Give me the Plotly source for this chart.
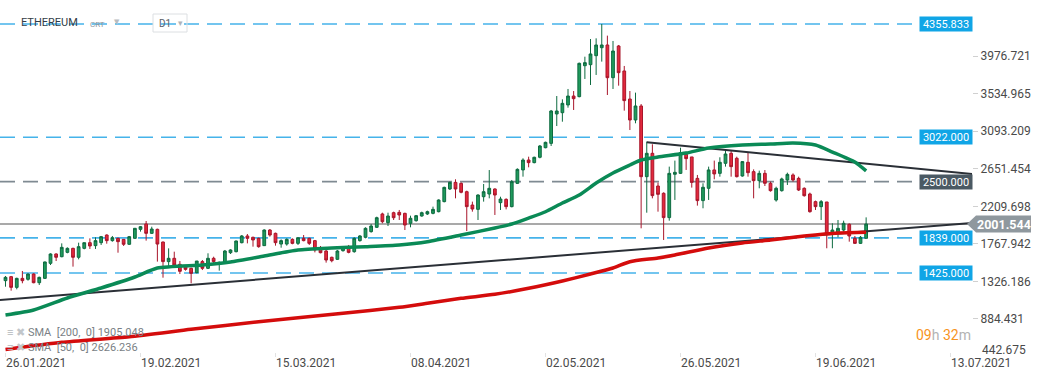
import pandas as pd
import plotly.graph_objects as go

# ---------------- data ----------------
START = "2021-01-26"
OPEN = [1335,1382,1256,1362,1351,1413,1311,1362,1539,1649,1617,1668,1715,1610,1715,1782,1747,1782,1872,1806,
        1833,1821,1763,1833,1939,2002,1892,1939,1790,1559,1598,1527,1500,1480,1429,1559,1480,1598,1527,1539,
        1664,1676,1782,1861,1845,1833,1747,1931,1892,1766,1766,1821,1774,1833,1833,1806,1704,1684,1610,1586,
        1688,1727,1676,1806,1845,1912,1963,2120,2018,2135,2139,2127,2010,2041,2096,2120,2127,2147,2265,2414,
        2492,2480,2382,2225,2174,2323,2355,2414,2253,2292,2206,2480,2638,2755,2724,2787,2900,2951,3297,3312,
        3403,3508,3501,3865,3877,3983,4077,4109,3724,4097,3803,3473,3226,3391,2559,2834,2449,2363,2077,2587,
        2598,2822,2791,2539,2277,2422,2638,2598,2716,2834,2775,2567,2728,2618,2512,2598,2481,2284,2394,2520,
        2579,2539,2422,2355,2265,2206,2261,1892,1892,1931,1998,1833,1774,1833]
HIGH = [1390,1390,1370,1449,1421,1421,1382,1559,1657,1657,1774,1727,1723,1782,1782,1833,1845,1861,1880,1861,
        1841,1825,1861,1955,1978,2037,1970,1947,1794,1715,1676,1566,1519,1488,1566,1578,1657,1617,1559,1696,
        1704,1806,1872,1884,1853,1841,1939,1943,1900,1821,1833,1833,1845,1872,1841,1814,1743,1696,1617,1696,
        1735,1755,1845,1872,1963,2002,2088,2135,2135,2147,2167,2135,2100,2108,2147,2159,2206,2292,2441,2500,
        2528,2492,2394,2265,2351,2473,2637,2422,2323,2304,2520,2657,2775,2794,2794,2932,2971,3344,3508,3469,
        3591,3567,3901,3971,4179,4187,4356,4219,4156,4109,3862,3567,3548,3414,2971,2940,2489,2375,2677,2748,
        2900,2853,2791,2579,2481,2677,2748,2787,2865,2865,2794,2743,2841,2645,2630,2637,2500,2441,2547,2606,
        2598,2559,2433,2371,2277,2284,2261,2010,2049,2041,2010,1861,1861,2080]
LOW = [1264,1217,1233,1304,1335,1304,1284,1355,1519,1566,1610,1657,1500,1586,1704,1708,1708,1755,1770,1794,
       1664,1743,1755,1829,1912,1806,1884,1559,1370,1508,1508,1413,1453,1304,1421,1460,1472,1519,1453,1531,
       1649,1668,1774,1774,1735,1723,1743,1853,1747,1723,1747,1763,1755,1798,1755,1668,1657,1547,1551,1578,
       1676,1657,1664,1794,1833,1900,1955,2010,1978,2049,2049,1931,1963,2029,2088,2108,2116,2139,2257,2402,
       2304,2363,1919,2147,2049,2265,2304,2108,2167,2174,2198,2473,2559,2669,2716,2775,2893,2920,3155,3206,
       3371,3344,3493,3709,3638,3756,3913,3520,3591,3630,3336,3108,3187,1951,2135,2304,2147,1814,2041,2285,
       2590,2638,2430,2218,2187,2285,2528,2559,2677,2559,2550,2559,2559,2304,2422,2449,2383,2265,2383,2461,
       2500,2390,2324,2135,2167,2049,1716,1716,1845,1912,1794,1767,1767,1833]
CLOSE = [1374,1256,1362,1335,1413,1311,1374,1555,1649,1610,1727,1715,1610,1735,1782,1743,1806,1853,1806,1841,
         1794,1763,1853,1951,1970,1892,1943,1766,1559,1598,1519,1445,1468,1421,1566,1480,1598,1559,1551,1684,
         1696,1802,1861,1833,1814,1735,1931,1872,1782,1806,1821,1774,1841,1806,1774,1696,1664,1578,1570,1684,
         1723,1668,1833,1861,1951,1978,2076,2029,2096,2076,2108,1990,2069,2100,2135,2147,2174,2284,2433,2492,
         2414,2375,2206,2178,2343,2382,2422,2343,2296,2206,2500,2645,2755,2724,2787,2920,2963,3332,3332,3422,
         3508,3477,3893,3901,4003,4109,4109,3724,4038,3783,3454,3226,3391,2559,2834,2336,2351,2077,2598,2610,
         2842,2771,2492,2277,2434,2638,2591,2728,2826,2677,2559,2736,2606,2512,2598,2481,2394,2422,2532,2586,
         2520,2402,2335,2147,2206,2265,1884,1931,1951,2010,1861,1774,1845,2001.544]

SMA50_DATES = ["2021-01-26","2021-01-31","2021-02-06","2021-02-12","2021-02-18","2021-02-22","2021-03-02",
               "2021-03-07","2021-03-13","2021-03-19","2021-03-25","2021-03-31","2021-04-06","2021-04-11",
               "2021-04-17","2021-04-23","2021-04-26","2021-04-29","2021-05-02","2021-05-05","2021-05-08",
               "2021-05-11","2021-05-14","2021-05-17","2021-05-19","2021-05-22","2021-05-27","2021-05-31",
               "2021-06-06","2021-06-11","2021-06-15","2021-06-19","2021-06-22","2021-06-26","2021-06-28"]
SMA50_VALUES = [931,990,1131,1249,1378,1484,1519,1554,1625,1696,1719,1735,1755,1793,1872,1955,2002,2072,2146,
                2249,2343,2484,2602,2696,2755,2790,2837,2896,2931,2943,2955,2931,2849,2731,2626.236]

SMA200_DATES = ["2021-01-26","2021-02-05","2021-02-17","2021-02-28","2021-03-12","2021-03-27","2021-04-06",
                "2021-04-11","2021-04-17","2021-04-23","2021-04-29","2021-05-05","2021-05-10","2021-05-14",
                "2021-05-17","2021-05-22","2021-05-25","2021-05-31","2021-06-06","2021-06-11","2021-06-17",
                "2021-06-23","2021-06-28"]
SMA200_VALUES = [525,609,675,762,851,951,1021,1068,1127,1174,1245,1331,1413,1484,1558,1602,1637,1719,1778,
                 1813,1860,1896,1905.048]

TREND_LOW_DATES = ["2021-01-20", "2021-07-20"]
TREND_LOW_VALUES = [1081, 2031]
TREND_HIGH_DATES = ["2021-05-20", "2021-07-20"]
TREND_HIGH_VALUES = [2963, 2569]

LEVELS = [4355.833, 3022.000, 2500.000, 1839.000, 1425.000]
LEVEL_KIND = ["blue", "blue", "gray", "blue", "blue"]
LAST_PRICE = 2001.544

Y_TICKS = [884.431, 1326.186, 1767.942, 2209.698, 2651.454, 3093.209, 3534.965, 3976.721]
BOTTOM_TICK = 442.675
X_TICK_DATES = ["2021-01-26", "2021-02-19", "2021-03-15", "2021-04-08",
                "2021-05-02", "2021-05-26", "2021-06-19", "2021-07-13"]

# ---------------- layout geometry ----------------
W, H = 1041, 380
PW, PH = 972, 352          # plot area in px
DAY_PX = 5.625
X0_PX = 5.5                # px of START candle centre
Y_REF_V, Y_REF_PX, V_PER_PX = 4355.833, 24.0, 11.77

start = pd.Timestamp(START)
x_lo = start - pd.Timedelta(days=X0_PX / DAY_PX)
x_hi = start + pd.Timedelta(days=(PW - X0_PX) / DAY_PX)
y_hi = Y_REF_V + Y_REF_PX * V_PER_PX
y_lo = Y_REF_V - (PH - Y_REF_PX) * V_PER_PX

def px(x):
    return x / PW

def py(y):
    return 1 - y / PH

dates = pd.date_range(START, periods=len(OPEN), freq="D")
FONT = "Roboto, Arial, sans-serif"

fig = go.Figure()
fig.add_trace(go.Candlestick(
    x=dates, open=OPEN, high=HIGH, low=LOW, close=CLOSE,
    increasing=dict(line=dict(color="#0e6b40", width=1), fillcolor="#1f9a5c"),
    decreasing=dict(line=dict(color="#a8162b", width=1), fillcolor="#e2283c"),
    whiskerwidth=0, showlegend=False, hoverinfo="skip"))

fig.add_trace(go.Scatter(x=TREND_LOW_DATES, y=TREND_LOW_VALUES, mode="lines",
                         line=dict(color="#2a2f36", width=2), showlegend=False, hoverinfo="skip"))
fig.add_trace(go.Scatter(x=TREND_HIGH_DATES, y=TREND_HIGH_VALUES, mode="lines",
                         line=dict(color="#2a2f36", width=2), showlegend=False, hoverinfo="skip"))
fig.add_trace(go.Scatter(x=SMA200_DATES, y=SMA200_VALUES, mode="lines",
                         line=dict(color="#d40c0c", width=3.5, shape="spline", smoothing=0.6),
                         showlegend=False, hoverinfo="skip"))
fig.add_trace(go.Scatter(x=SMA50_DATES, y=SMA50_VALUES, mode="lines",
                         line=dict(color="#0a8a56", width=3.5, shape="spline", smoothing=0.6),
                         showlegend=False, hoverinfo="skip"))

shapes = []
annotations = []
for v, kind in zip(LEVELS, LEVEL_KIND):
    lc = "#45b3ea" if kind == "blue" else "#7f8a92"
    bc = "#10a5e6" if kind == "blue" else "#4a5963"
    shapes.append(dict(type="line", xref="paper", yref="y", x0=0, x1=px(915), y0=v, y1=v,
                       line=dict(color=lc, width=1.6, dash="15px,8px"), layer="below"))
    annotations.append(dict(xref="paper", yref="y", x=px(946), y=v, text=f"{v:.3f}",
                            showarrow=False, xanchor="center", yanchor="middle",
                            width=52, height=14, borderpad=0, bgcolor=bc,
                            font=dict(family=FONT, size=11, color="white")))

# current price line + callout
shapes.append(dict(type="line", xref="paper", yref="y", x0=0, x1=1, y0=LAST_PRICE, y1=LAST_PRICE,
                   line=dict(color="#8c8c8c", width=1.5), layer="below"))
yc = Y_REF_PX + (Y_REF_V - LAST_PRICE) / V_PER_PX
path = (f"M {px(967)},{py(yc)} L {px(976)},{py(yc-8.5)} L {px(1031)},{py(yc-8.5)} "
        f"L {px(1031)},{py(yc+8.5)} L {px(976)},{py(yc+8.5)} Z")
shapes.append(dict(type="path", xref="paper", yref="paper", path=path,
                   fillcolor="#8f989e", line=dict(width=0)))
annotations.append(dict(xref="paper", yref="y", x=px(1004), y=LAST_PRICE, text=f"<b>{LAST_PRICE:.3f}</b>",
                        showarrow=False, xanchor="center", yanchor="middle",
                        font=dict(family=FONT, size=12.5, color="white")))

# bottom axis value that sits below the plot area
annotations.append(dict(xref="paper", yref="paper", x=px(980), y=py(350), text=f"{BOTTOM_TICK:.3f}",
                        showarrow=False, xanchor="left", yanchor="middle",
                        font=dict(family=FONT, size=12, color="#4a4a4a")))

# header
annotations += [
    dict(xref="paper", yref="paper", x=px(19), y=py(23), text="ETHEREUM", showarrow=False,
         xanchor="left", yanchor="middle", font=dict(family=FONT, size=11, color="#343d46")),
    dict(xref="paper", yref="paper", x=px(88), y=py(24.5), text="CRT", showarrow=False,
         xanchor="left", yanchor="middle", font=dict(family=FONT, size=8, color="#8b949b")),
    dict(xref="paper", yref="paper", x=px(112), y=py(22), text="▼", showarrow=False,
         xanchor="left", yanchor="middle", font=dict(family="DejaVu Sans", size=7, color="#b8bcc0")),
    dict(xref="paper", yref="paper", x=px(157), y=py(23.5), text="D1", showarrow=False,
         xanchor="left", yanchor="middle", font=dict(family=FONT, size=10, color="#5a6067")),
    dict(xref="paper", yref="paper", x=px(176), y=py(23), text="▾", showarrow=False,
         xanchor="left", yanchor="middle", font=dict(family="DejaVu Sans", size=9, color="#b0b4b8")),
]
shapes.append(dict(type="rect", xref="paper", yref="paper", x0=px(153), x1=px(187), y0=py(32), y1=py(14),
                   line=dict(color="#dcdfe2", width=1), fillcolor="rgba(0,0,0,0)"))

# SMA legend
for row_y, txt in [(332, "SMA&nbsp; [200,&nbsp; 0] 1905.048"), (347, "SMA&nbsp; [50,&nbsp; 0] 2626.236")]:
    annotations.append(dict(
        xref="paper", yref="paper", x=px(5), y=py(row_y), showarrow=False,
        xanchor="left", yanchor="middle",
        text=f'<span style="color:#b4b8bc">≡</span>&nbsp;<span style="color:#c2c6ca">✖</span>&nbsp;{txt}',
        font=dict(family=FONT, size=11, color="#7a7f85")))

# timer
annotations.append(dict(
    xref="paper", yref="paper", x=px(914), y=py(335), showarrow=False, xanchor="left", yanchor="middle",
    text='<span style="color:#f7941d">09</span>h <span style="color:#f7941d">32</span>m',
    font=dict(family=FONT, size=14, color="#b3b3b3")))

fig.update_layout(
    width=W, height=H, autosize=False,
    margin=dict(l=0, r=W - PW, t=0, b=H - PH),
    paper_bgcolor="white", plot_bgcolor="white",
    showlegend=False, shapes=shapes, annotations=annotations,
    xaxis=dict(type="date", range=[x_lo, x_hi], rangeslider=dict(visible=False),
               tickvals=X_TICK_DATES,
               ticktext=[pd.Timestamp(d).strftime("%d.%m.%Y") for d in X_TICK_DATES],
               ticks="outside", ticklen=4, tickcolor="#e2e2e2", ticklabelposition="outside right",
               tickfont=dict(family=FONT, size=12, color="#4a4a4a"),
               showgrid=False, zeroline=False, showline=False),
    yaxis=dict(side="right", range=[y_lo, y_hi], tickvals=Y_TICKS,
               ticktext=[f"{v:.3f}" for v in Y_TICKS],
               ticks="outside", ticklen=5, tickcolor="#d0d0d0",
               tickfont=dict(family=FONT, size=12, color="#4a4a4a"),
               showgrid=False, zeroline=False, showline=False),
)

fig.write_html("out.html", config={"displayModeBar": False},
               post_script="document.body.style.margin='0';document.body.style.overflow='hidden';")
